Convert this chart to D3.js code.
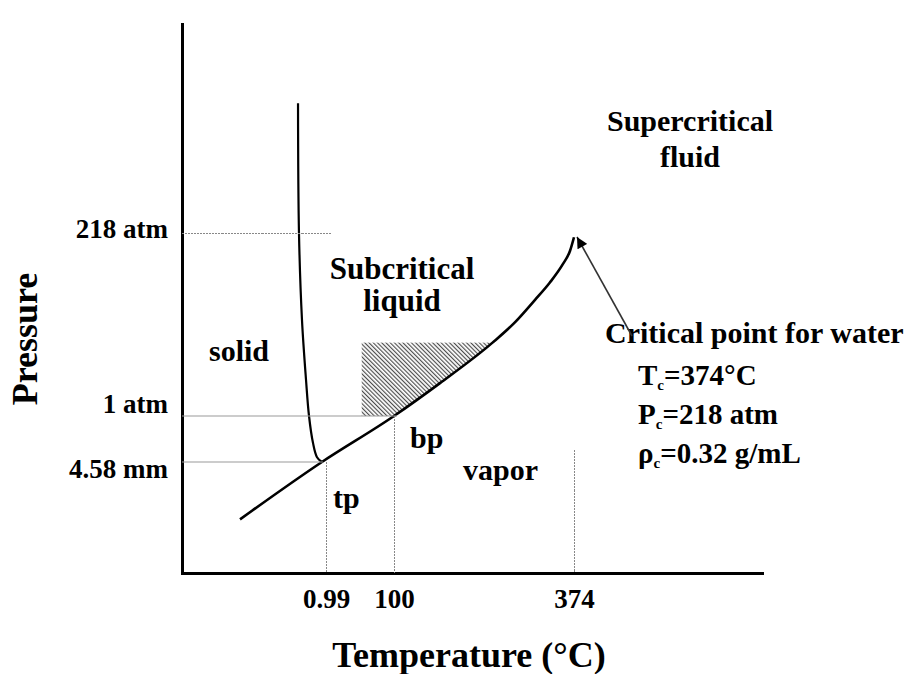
<!DOCTYPE html>
<html>
<head>
<meta charset="utf-8">
<script src="https://cdn.jsdelivr.net/npm/d3@7"></script>
<style>
  html, body { margin: 0; padding: 0; background: #fff; }
  svg text { font-family: "Liberation Serif", "Times New Roman", serif; font-weight: bold; fill: #000; }
</style>
</head>
<body>
<svg id="chart" width="912" height="674"></svg>
<script>
// Schematic phase diagram of water (not to scale)

// axis ticks
const tempTicks = [0.99, 100, 374];
const tempTickLabels = ["0.99", "100", "374"];
const pressureTicks = [0.006, 1, 218];
const pressureTickLabels = ["4.58 mm", "1 atm", "218 atm"];

// liquid–vapour boundary (°C, atm)
const vaporT = [-125, -5, 100, 170, 250, 284, 315, 337, 357, 368, 374];
const vaporP = [0.0029, 0.006, 1, 40, 88, 112, 139, 159, 181, 197, 213];

// solid–liquid boundary (°C, atm)
const meltT = [-40, -38.6, -34.2, -28.3, -23.9, -18.1, -12.2, -5];
const meltP = [372, 218, 115, 44, 1, 0.42, 0.11, 0.006];

// critical point
const criticalT = 374;
const criticalP = 218;

// shaded liquid band above 1 atm
const shadeT = [53, 250];
const shadeP = [1, 88];

const svg = d3.select("#chart");

// piecewise scales: the diagram stretches each region differently
const x = d3.scaleLinear()
  .domain([-210, 0.99, 100, 374, 660])
  .range([182, 326, 394, 574, 762]);
const y = d3.scaleLinear()
  .domain([0, 0.006, 1, 218, 466])
  .range([573, 462, 416, 233, 24]);

const [x0, x1] = x.range();
const [yBottom, yTop] = y.range();
const crisp = v => Math.round(v) + 0.5;

const defs = svg.append("defs");

// ---- hatched band ----
const pat = defs.append("pattern")
  .attr("id", "hatch")
  .attr("patternUnits", "userSpaceOnUse")
  .attr("width", 3).attr("height", 3)
  .attr("patternTransform", "rotate(-45)");
pat.append("line")
  .attr("x1", 0.6).attr("x2", 0.6).attr("y1", 0).attr("y2", 3)
  .attr("stroke", "#444").attr("stroke-width", 1.1);

const vaporPts = vaporT.map((t, i) => [t, vaporP[i]]);
const meltPts = meltT.map((t, i) => [t, meltP[i]]);

// clip: the liquid side of the boiling curve
const aboveCurve = d3.area()
  .x(d => x(d[0]))
  .y0(0)
  .y1(d => y(d[1]))
  .curve(d3.curveMonotoneX);
defs.append("clipPath").attr("id", "liquidSide")
  .append("path").attr("d", aboveCurve(vaporPts));

svg.append("rect")
  .attr("x", x(shadeT[0]))
  .attr("y", y(shadeP[1]))
  .attr("width", x(shadeT[1]) - x(shadeT[0]) + 6)
  .attr("height", y(shadeP[0]) - y(shadeP[1]))
  .attr("fill", "url(#hatch)")
  .attr("clip-path", "url(#liquidSide)");

// ---- phase boundaries ----
svg.append("path")
  .attr("d", d3.line().x(d => x(d[0])).y(d => y(d[1])).curve(d3.curveMonotoneX)(vaporPts))
  .attr("fill", "none").attr("stroke", "#000").attr("stroke-width", 2.6);
svg.append("path")
  .attr("d", d3.line().x(d => x(d[0])).y(d => y(d[1])).curve(d3.curveCatmullRom.alpha(0.5))(meltPts))
  .attr("fill", "none").attr("stroke", "#000").attr("stroke-width", 2.2);

// ---- axes ----
const xAxis = d3.axisBottom(x)
  .tickValues(tempTicks)
  .tickFormat((d, i) => tempTickLabels[i])
  .tickSize(0).tickSizeOuter(0).tickPadding(16);
const gx = svg.append("g").attr("transform", `translate(0,${yBottom})`).call(xAxis);

const yAxis = d3.axisLeft(y)
  .tickValues(pressureTicks)
  .tickFormat((d, i) => pressureTickLabels[i])
  .tickSize(0).tickSizeOuter(0).tickPadding(14);
const gy = svg.append("g").attr("transform", `translate(${x0},0)`).call(yAxis);

[gx, gy].forEach(g => {
  g.select(".domain").attr("stroke", "#000").attr("stroke-width", 3).attr("stroke-linecap", "square");
  g.selectAll("text").style("font-size", "27px").attr("fill", "#000");
});
const pressureLabelShift = { "4.58 mm": 15, "1 atm": -4, "218 atm": 4 };
gy.selectAll(".tick text").attr("dy", (d, i) => pressureLabelShift[pressureTickLabels[i]] + "px");

// axis titles
svg.append("text")
  .attr("x", 469).attr("y", 667)
  .attr("text-anchor", "middle")
  .style("font-size", "36px")
  .text("Temperature (°C)");
svg.append("text")
  .attr("transform", "translate(37,339) rotate(-90)")
  .attr("text-anchor", "middle")
  .style("font-size", "36px")
  .text("Pressure");

// ---- region labels ----
const label = (tx, ty, txt, anchor = "start", size = 30) =>
  svg.append("text").attr("x", tx).attr("y", ty)
    .attr("text-anchor", anchor).style("font-size", size + "px").text(txt);

label(690, 131, "Supercritical", "middle");
label(690, 167, "fluid", "middle");
label(402, 279, "Subcritical", "middle", 31);
label(402, 311, "liquid", "middle", 31);
label(239, 361, "solid", "middle");
label(410, 448, "bp");
label(463, 480, "vapor");
label(333, 508, "tp");

// ---- critical point annotation ----
label(605, 343, "Critical point for water");

const subLine = (ty, sym, rest) => {
  const t = svg.append("text").attr("x", 638).attr("y", ty).style("font-size", "29px");
  t.append("tspan").text(sym);
  t.append("tspan").attr("dy", 5).style("font-size", "15px").text("c");
  t.append("tspan").attr("dy", -5).text(rest);
};
subLine(385, "T", "=374°C");
subLine(424, "P", "=218 atm");
subLine(463, "ρ", "=0.32 g/mL");

defs.append("marker")
  .attr("id", "arrowHead")
  .attr("viewBox", "0 0 10 10")
  .attr("refX", 10).attr("refY", 5)
  .attr("markerWidth", 12).attr("markerHeight", 11)
  .attr("markerUnits", "userSpaceOnUse")
  .attr("orient", "auto")
  .append("path").attr("d", "M0,0L10,5L0,10Z").attr("fill", "#000");

svg.append("line")
  .attr("x1", 632).attr("y1", 336)
  .attr("x2", x(criticalT) + 3).attr("y2", y(criticalP) + 4)
  .attr("stroke", "#333").attr("stroke-width", 1.6)
  .attr("marker-end", "url(#arrowHead)");

// ---- guide lines (drawn last, on top) ----
const guides = svg.append("g").attr("fill", "none");
const dotted = sel => sel.attr("stroke", "#888").attr("stroke-width", 1).attr("stroke-dasharray", "2,1");
const solidGuide = sel => sel.attr("stroke", "#999").attr("stroke-width", 1.2);

// critical isobar, split into short runs between temperature stops
const isobarStops = d3.range(x0, x1 + 6, 40).concat([x1 + 5]);
d3.pairs(isobarStops).forEach(([a, b]) => {
  guides.append("line")
    .attr("x1", a).attr("x2", b)
    .attr("y1", crisp(y(criticalP))).attr("y2", crisp(y(criticalP)))
    .call(dotted);
});
// critical isotherm, split the same way
const isothermStops = d3.range(yTop - 12, yBottom, 40).concat([yBottom]);
d3.pairs(isothermStops).forEach(([a, b]) => {
  guides.append("line")
    .attr("x1", crisp(x(criticalT))).attr("x2", crisp(x(criticalT)))
    .attr("y1", a).attr("y2", b)
    .call(dotted);
});
// 1 atm and triple-point pressure
guides.append("line")
  .attr("x1", x0).attr("x2", x(100) + 3)
  .attr("y1", y(1)).attr("y2", y(1))
  .call(solidGuide);
guides.append("line")
  .attr("x1", x0).attr("x2", x(vaporT[1]) + 1)
  .attr("y1", y(0.006)).attr("y2", y(0.006))
  .call(solidGuide);
// drops to the temperature axis
guides.append("line")
  .attr("x1", crisp(x(0.99))).attr("x2", crisp(x(0.99)))
  .attr("y1", y(0.006)).attr("y2", yBottom)
  .call(dotted);
guides.append("line")
  .attr("x1", crisp(x(100))).attr("x2", crisp(x(100)))
  .attr("y1", y(1)).attr("y2", yBottom)
  .call(dotted);
</script>
</body>
</html>
